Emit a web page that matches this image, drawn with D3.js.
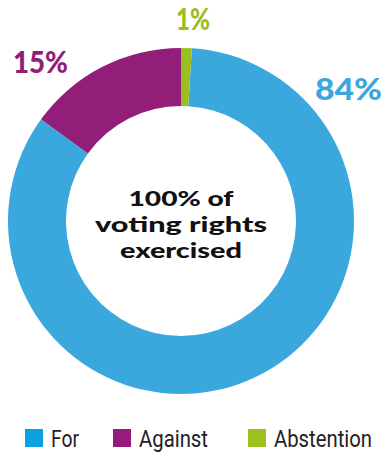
<!DOCTYPE html>
<html><head><meta charset="utf-8">
<script src="https://cdn.jsdelivr.net/npm/d3@7"></script>
<style>html,body{margin:0;padding:0;background:#fff;}</style>
</head><body>
<script>
const categories = ["For", "Against", "Abstention"];
const values = [84, 15, 1];
const labels = ["84%", "15%", "1%"];
const sliceColors = ["#3AA8DC", "#921E7A", "#9BBE1F"];
const legendColors = ["#0BA0E2", "#951B7F", "#9CC11F"];
const centerLines = ["100% of", "voting rights", "exercised"];

const W = 386, H = 452;
const svg = d3.select("body").append("svg").attr("width", W).attr("height", H);
const cx = 181, cy = 221, R = 173, r = 115;
const total = d3.sum(values);
const off = values[2] / total * 2 * Math.PI;
const pie = d3.pie().sort(null).value(d => d).startAngle(off).endAngle(off + 2 * Math.PI);
const arcs = pie(values);
const arc = d3.arc().innerRadius(r).outerRadius(R);
const g = svg.append("g").attr("transform", `translate(${cx},${cy})`);
g.selectAll("path").data(arcs).join("path").attr("d", arc).attr("fill", (d, i) => sliceColors[i]);

const labelPos = [[348.5, 100], [40.5, 73], [193, 30]];
const labelW = [67, 55, 34];
svg.selectAll("text.lbl").data(labels).join("text").attr("class", "lbl")
  .attr("x", (d, i) => labelPos[i][0]).attr("y", (d, i) => labelPos[i][1])
  .attr("text-anchor", "middle")
  .attr("font-family", "Lato, 'Open Sans', sans-serif").attr("font-weight", 900)
  .attr("font-size", 30).attr("fill", (d, i) => sliceColors[i])
  .attr("textLength", (d, i) => labelW[i]).attr("lengthAdjust", "spacingAndGlyphs")
  .text(d => d);

const centerW = [105, 172, 122];
const ctr = svg.append("text").attr("class", "ctr")
  .attr("text-anchor", "middle")
  .attr("font-family", "Lato, 'Open Sans', sans-serif").attr("font-weight", 900)
  .attr("font-size", 21.5).attr("fill", "#111");
ctr.selectAll("tspan").data(centerLines).join("tspan")
  .attr("x", cx).attr("y", (d, i) => 206 + i * 26)
  .attr("textLength", (d, i) => centerW[i]).attr("lengthAdjust", "spacingAndGlyphs")
  .text(d => d);

const legX = [25, 113, 248];
const legW = [28, 69, 98];
const lg = svg.selectAll("g.leg").data(categories).join("g").attr("class", "leg")
  .attr("transform", (d, i) => `translate(${legX[i]},429)`);
lg.append("rect").attr("width", 18).attr("height", 18).attr("fill", (d, i) => legendColors[i]);
lg.append("text").attr("x", 26).attr("y", 18)
  .attr("font-family", "Roboto, 'Liberation Sans', sans-serif")
  .attr("font-size", 23).attr("fill", "#222")
  .attr("textLength", (d, i) => legW[i]).attr("lengthAdjust", "spacingAndGlyphs")
  .text(d => d);
</script>
</body></html>
